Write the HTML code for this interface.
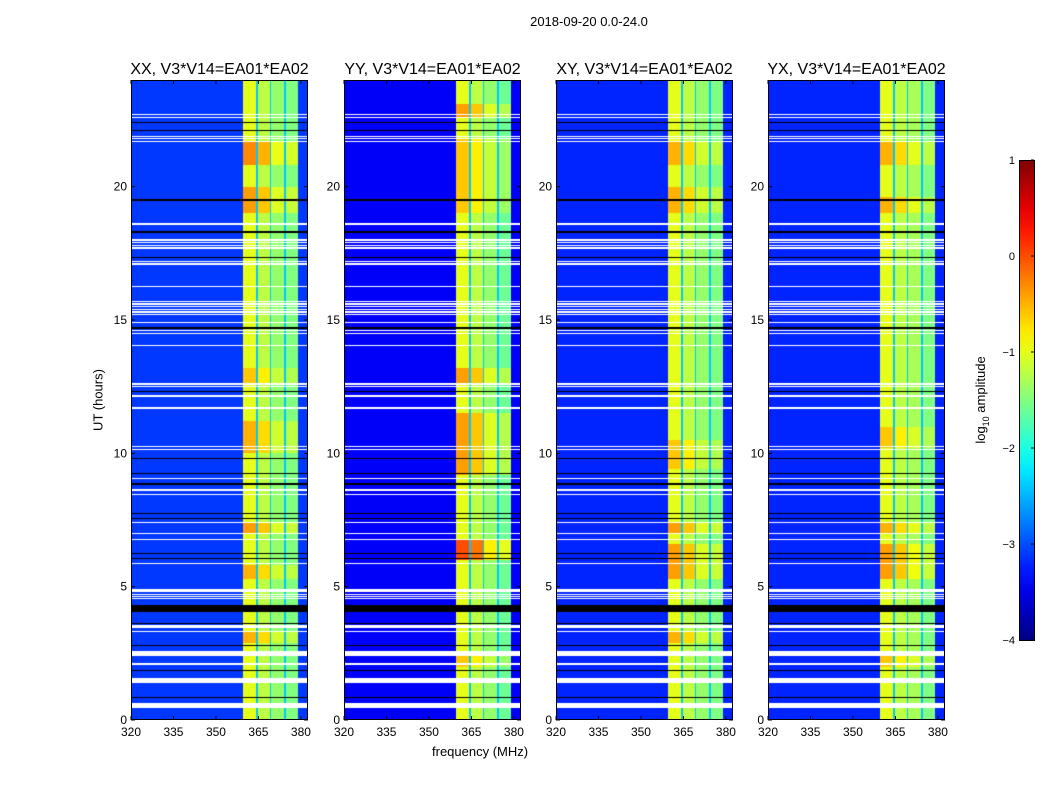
<!DOCTYPE html>
<html><head><meta charset="utf-8"><style>
body{margin:0;background:#fff;font-family:"Liberation Sans",sans-serif;}
#root{position:relative;width:1050px;height:800px;overflow:hidden;background:#fff}
.t{position:absolute;color:#000;white-space:nowrap}
canvas{position:absolute}
</style></head><body><div id="root">
<div class="t" style="left:0;width:1178px;top:14px;font-size:13px;text-align:center">2018-09-20 0.0-24.0</div>
<div class="t" style="left:432px;top:744px;font-size:13px">frequency (MHz)</div>
<div class="t" style="left:98px;top:400px;font-size:13px;transform:translate(-50%,-50%) rotate(-90deg)">UT (hours)</div>
<div class="t" style="left:982px;top:400px;font-size:13px;transform:translate(-50%,-50%) rotate(-90deg)">log<sub style="font-size:9px">10</sub> amplitude</div>
<svg id="svg" width="1050" height="800" style="position:absolute;left:0;top:0"></svg>
</div>
<script>
const panelNames=["XX","YY","XY","YX"];
const panelLeft=[131,344,556,768];
const bgLevel=[-3.1,-3.4,-3.2,-3.2];
const segments=[[359.4,364.2],[364.7,369.1],[369.6,374.1],[374.6,378.8]];
const segLevel=[[-1.0,-1.2,-1.4,-1.5],[-1.0,-1.2,-1.4,-1.6],[-1.0,-1.2,-1.4,-1.5],[-1.0,-1.2,-1.3,-1.5]];
const hotXX=[[20.8,21.7,0.7],[19.0,20.0,0.6],[10.0,11.2,0.5],[7.0,7.4,0.6],[5.3,5.8,0.5],[2.9,3.3,0.5],[12.6,13.2,0.4]];
const hotYY=[[22.6,23.1,0.6],[6.0,6.8,1.0],[9.2,11.5,0.6],[12.6,13.2,0.6],[19.0,21.8,0.4],[2.0,2.4,0.4]];
const hotXY=[[20.8,21.7,0.5],[19.0,20.0,0.5],[7.0,7.4,0.6],[5.3,6.6,0.6],[2.9,3.3,0.5],[9.4,10.5,0.4]];
const hotYX=[[20.8,21.7,0.5],[19.0,19.6,0.5],[7.0,7.4,0.5],[5.3,6.6,0.6],[2.0,2.4,0.4],[10.2,11.0,0.4]];
const hotspots=[hotXX,hotYY,hotXY,hotYX];
const whiteRows=[[0.45,0.64],[1.4,1.58],[2.08,2.13],[2.4,2.6],[3.31,3.35],[3.45,3.55],[4.53,4.57],[4.61,4.64],[4.68,4.71],[4.8,4.9],[5.86,5.9],[6.76,6.8],[6.98,7.02],[7.4,7.44],[8.45,8.49],[8.58,8.67],[9.05,9.09],[10.13,10.17],[10.25,10.29],[11.68,11.72],[12.13,12.17],[12.48,12.52],[12.58,12.62],[14.04,14.08],[14.48,14.52],[14.58,14.62],[14.88,14.92],[15.18,15.22],[15.28,15.32],[15.38,15.42],[15.48,15.52],[15.58,15.62],[15.68,15.72],[16.22,16.26],[17.08,17.12],[17.18,17.22],[17.68,17.72],[17.78,17.82],[17.88,17.92],[17.98,18.02],[18.58,18.62],[21.68,21.72],[21.78,21.82],[21.86,21.9],[22.58,22.62],[22.68,22.72]];
const blackRows=[[0.82,0.86],[1.85,1.89],[2.78,2.82],[3.61,3.65],[4.05,4.3],[6.05,6.09],[6.24,6.28],[7.55,7.59],[7.74,7.78],[8.83,8.87],[9.24,9.28],[9.8,9.84],[12.31,12.35],[14.68,14.72],[17.33,17.37],[18.28,18.32],[19.48,19.53],[22.08,22.12],[22.38,22.42]];
const xTicks=[320,335,350,365,380];
const yTicks=[0,5,10,15,20];
const cbTicks=[1,0,-1,-2,-3,-4];
const fMin=320,fMax=382.5,hMin=0,hMax=24,vMin=-4,vMax=1;
const pw=177,ph=640,top0=80;
function xPos(f){return (f-fMin)/(fMax-fMin)*pw;}
function yPos(h){return ph-(h-hMin)/(hMax-hMin)*ph;}
function jet(x){x=Math.max(0,Math.min(1,x));const c=v=>Math.round(255*Math.max(0,Math.min(1,v)));
 return [c(1.5-Math.abs(4*x-3)),c(1.5-Math.abs(4*x-2)),c(1.5-Math.abs(4*x-1))];}
const root=document.getElementById('root');const svg=document.getElementById('svg');
const NS="http://www.w3.org/2000/svg";
function sv(tag,attrs){const e=document.createElementNS(NS,tag);for(const k in attrs)e.setAttribute(k,attrs[k]);svg.appendChild(e);return e;}
function inR(h,list){for(const r of list)if(h>=r[0]&&h<=r[1])return true;return false;}
panelNames.forEach((nm,p)=>{
 const cv=document.createElement('canvas');cv.width=pw;cv.height=ph;
 cv.style.left=panelLeft[p]+'px';cv.style.top=top0+'px';
 
 
 root.insertBefore(cv,svg);
 const ctx=cv.getContext('2d');const img=ctx.createImageData(pw,ph);
 for(let py=0;py<ph;py++){
  const h=hMax-(py+0.5)/ph*(hMax-hMin);
  const white=inR(h,whiteRows),black=inR(h,blackRows);
  let boost=0;for(const s of hotspots[p])if(h>=s[0]&&h<=s[1])boost=s[2];
  for(let px=0;px<pw;px++){
   const f=fMin+(px+0.5)/pw*(fMax-fMin);const i=(py*pw+px)*4;let rgb;
   if(white)rgb=[255,255,255];else if(black)rgb=[0,0,0];else{
    let v=bgLevel[p];let inBand=false;
    segments.forEach((sg,k)=>{if(f>=sg[0]&&f<=sg[1]){inBand=true;v=segLevel[p][k]+(k<2?boost:boost*0.6);}});
    if(!inBand&&f>segments[0][0]&&f<segments[3][1])v=-2.4;
    rgb=jet((v-vMin)/(vMax-vMin));}
   img.data[i]=rgb[0];img.data[i+1]=rgb[1];img.data[i+2]=rgb[2];img.data[i+3]=255;}
 }
 ctx.putImageData(img,0,0);
 const L=panelLeft[p];
 const fr=sv('rect',{x:L+0.5,y:top0+0.5,width:pw-1,height:ph-1,fill:'none',stroke:'#000','stroke-width':1});
 
 
 const tt=sv('text',{x:L+pw/2,y:74,'text-anchor':'middle','font-size':16,'font-family':'Liberation Sans, sans-serif'});
 tt.textContent=nm+', V3*V14=EA01*EA02';
 
 
 xTicks.forEach(t=>{const x=L+xPos(t);
  sv('line',{x1:x,x2:x,y1:top0+ph,y2:top0+ph-4,stroke:'#000'});sv('line',{x1:x,x2:x,y1:top0,y2:top0+4,stroke:'#000'});
  const tx=sv('text',{x:x,y:top0+ph+16,'text-anchor':'middle','font-size':12,'font-family':'Liberation Sans, sans-serif'});tx.textContent=t;
  
  });
 yTicks.forEach(t=>{const y=top0+yPos(t);
  sv('line',{x1:L,x2:L+4,y1:y,y2:y,stroke:'#000'});sv('line',{x1:L+pw,x2:L+pw-4,y1:y,y2:y,stroke:'#000'});
  const ty=sv('text',{x:L-4,y:y+4,'text-anchor':'end','font-size':12,'font-family':'Liberation Sans, sans-serif'});ty.textContent=t;
  
  });
});
// colorbar
const cbX=1019,cbY=160,cbW=15,cbH=480;
const defs=sv('defs',{});const g=document.createElementNS(NS,'linearGradient');
g.setAttribute('id','jetg');g.setAttribute('x1','0');g.setAttribute('y1','1');g.setAttribute('x2','0');g.setAttribute('y2','0');
for(let k=0;k<=20;k++){const s=document.createElementNS(NS,'stop');const c=jet(k/20);
 s.setAttribute('offset',k/20);s.setAttribute('stop-color','rgb('+c.join(',')+')');g.appendChild(s);}
defs.appendChild(g);
const cb=sv('rect',{x:cbX+0.5,y:cbY+0.5,width:cbW,height:cbH,fill:'url(#jetg)',stroke:'#000'});


cbTicks.forEach(t=>{const y=cbY+(vMax-t)/(vMax-vMin)*cbH;
 sv('line',{x1:cbX+cbW-3,x2:cbX+cbW,y1:y,y2:y,stroke:'#000'});
 const tl=sv('text',{x:cbX-4,y:y+4,'text-anchor':'end','font-size':11,'font-family':'Liberation Sans, sans-serif'});
 tl.textContent=t<0?'\u2212'+(-t):t;
 
 });
</script></body></html>
